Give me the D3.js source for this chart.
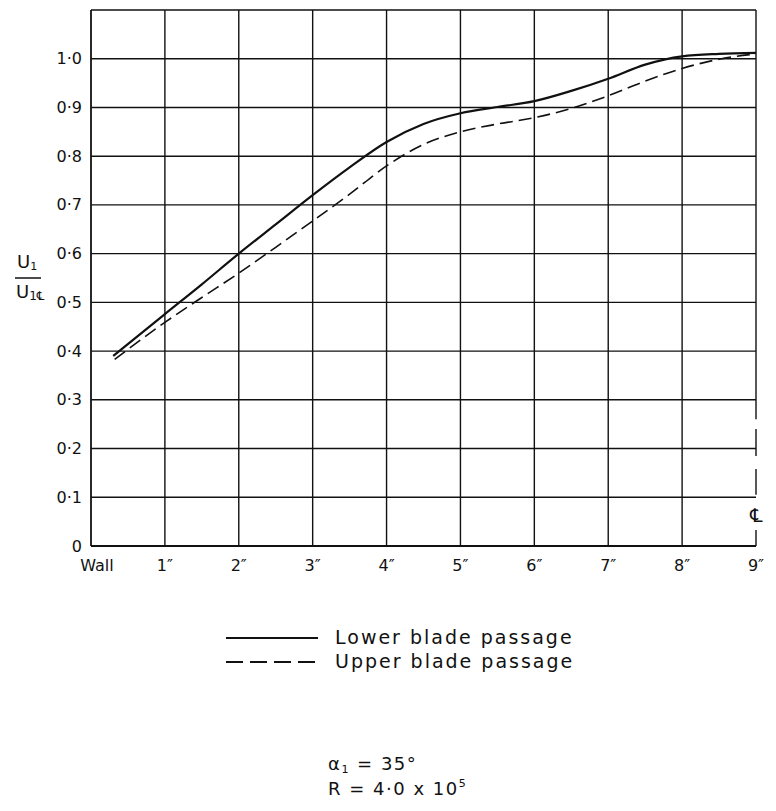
<!DOCTYPE html>
<html>
<head>
<meta charset="utf-8">
<script src="https://cdn.jsdelivr.net/npm/d3@7"></script>
<style>
  body { margin: 0; background: #fff; }
  text { font-family: "DejaVu Sans", sans-serif; fill: #111; }
</style>
</head>
<body>
<div id="chart"></div>
<script>
// distance from wall (inches) and U1/U1CL
const lowerX = [0.3, 1, 1.5, 2, 2.5, 3, 3.5, 4, 4.5, 5, 5.5, 6, 6.5, 7, 7.5, 8, 8.5, 9];
const lowerY = [0.39, 0.476, 0.537, 0.60, 0.66, 0.72, 0.777, 0.829, 0.866, 0.888, 0.901, 0.913, 0.934, 0.959, 0.988, 1.005, 1.01, 1.012];
const upperX = [0.32, 1, 1.5, 2, 2.5, 3, 3.5, 4, 4.5, 5, 5.5, 6, 6.5, 7, 7.5, 8, 8.5, 9];
const upperY = [0.383, 0.459, 0.51, 0.56, 0.613, 0.667, 0.722, 0.78, 0.824, 0.85, 0.866, 0.879, 0.898, 0.924, 0.954, 0.98, 0.999, 1.01];
const xTicks = [0, 1, 2, 3, 4, 5, 6, 7, 8, 9];
const xTickLabels = ["Wall", "1″", "2″", "3″", "4″", "5″", "6″", "7″", "8″", "9″"];
const yTicks = [0, 0.1, 0.2, 0.3, 0.4, 0.5, 0.6, 0.7, 0.8, 0.9, 1.0];
const yTickLabels = ["0", "0·1", "0·2", "0·3", "0·4", "0·5", "0·6", "0·7", "0·8", "0·9", "1·0"];
const legendNames = ["Lower blade passage", "Upper blade passage"];

const width = 776, height = 811;
const svg = d3.select("#chart").append("svg")
  .attr("width", width).attr("height", height);

const x = d3.scaleLinear().domain([0, 9]).range([91, 756]);
const y = d3.scaleLinear().domain([0, 1.1]).range([546, 10]);

// grid
const grid = svg.append("g").attr("stroke", "#111").attr("stroke-width", 1.4);
grid.selectAll(".hg").data(yTicks.slice(1)).join("line")
  .attr("x1", x(0)).attr("x2", x(9))
  .attr("y1", d => y(d)).attr("y2", d => y(d));
grid.selectAll(".vg").data(xTicks.slice(1, -1)).join("line")
  .attr("x1", d => x(d)).attr("x2", d => x(d))
  .attr("y1", y(0)).attr("y2", y(1.1));

// frame
grid.append("line").attr("x1", x(0)).attr("x2", x(0)).attr("y1", y(0)).attr("y2", y(1.1)).attr("stroke-width", 1.8);
grid.append("line").attr("x1", x(0)).attr("x2", x(9)).attr("y1", y(0)).attr("y2", y(0)).attr("stroke-width", 1.8);
grid.append("line").attr("x1", x(0)).attr("x2", x(9)).attr("y1", y(1.1)).attr("y2", y(1.1));
grid.append("line").attr("x1", x(9)).attr("x2", x(9)).attr("y1", y(1.1)).attr("y2", y(0.26));
// centre line (chain) at 9"
grid.append("line").attr("x1", x(9)).attr("x2", x(9)).attr("y1", y(0.24)).attr("y2", y(0.105))
  .attr("stroke-dasharray", "27,13");
grid.append("line").attr("x1", x(9)).attr("x2", x(9)).attr("y1", y(0.033)).attr("y2", y(0));
svg.append("text").attr("x", x(9)).attr("y", y(0.06)).attr("text-anchor", "middle")
  .attr("dominant-baseline", "middle").attr("font-size", 19).text("℄");

// tick labels
svg.selectAll(".yl").data(yTicks).join("text")
  .attr("x", 82).attr("y", d => y(d) + 1)
  .attr("text-anchor", "end").attr("dominant-baseline", "middle")
  .attr("font-size", 16)
  .text((d, i) => yTickLabels[i]);
svg.selectAll(".xl").data(xTicks).join("text")
  .attr("x", d => d === 0 ? 97 : x(d)).attr("y", 571)
  .attr("text-anchor", "middle").attr("font-size", 16)
  .text((d, i) => xTickLabels[i]);

// y label: U1 / U1CL
const yl = svg.append("g");
yl.append("text").attr("x", 17).attr("y", 268).attr("font-size", 18).text("U")
  .append("tspan").attr("font-size", 11).attr("dy", 2).text("1");
yl.append("line").attr("x1", 15).attr("x2", 41).attr("y1", 278).attr("y2", 278)
  .attr("stroke", "#111").attr("stroke-width", 1.5);
yl.append("text").attr("x", 16).attr("y", 298).attr("font-size", 18).text("U")
  .append("tspan").attr("font-size", 12).attr("dy", 2).text("1℄");

// curves
const line = d3.line().x(d => x(d[0])).y(d => y(d[1])).curve(d3.curveMonotoneX);
svg.append("path").datum(d3.zip(lowerX, lowerY))
  .attr("d", line).attr("fill", "none").attr("stroke", "#111").attr("stroke-width", 2.2);
svg.append("path").datum(d3.zip(upperX, upperY))
  .attr("d", line).attr("fill", "none").attr("stroke", "#111").attr("stroke-width", 1.6)
  .attr("stroke-dasharray", "13,6");

// legend
const leg = svg.append("g");
legendNames.forEach((name, i) => {
  const ly = 638 + i * 24;
  leg.append("line").attr("x1", 226).attr("x2", 318).attr("y1", ly).attr("y2", ly)
    .attr("stroke", "#111").attr("stroke-width", 1.8)
    .attr("stroke-dasharray", i === 0 ? null : "17,7");
  leg.append("text").attr("x", 335).attr("y", ly).attr("dominant-baseline", "middle")
    .attr("font-size", 19).attr("letter-spacing", 2).text(name);
});

// conditions
const alpha = svg.append("text").attr("x", 328).attr("y", 770).attr("font-size", 18).attr("letter-spacing", 1.5);
alpha.append("tspan").text("α");
alpha.append("tspan").attr("font-size", 11).attr("dy", 3).text("1");
alpha.append("tspan").attr("dy", -3).text("  =  35°");
const rey = svg.append("text").attr("x", 328).attr("y", 795).attr("font-size", 18).attr("letter-spacing", 1.5);
rey.append("tspan").text("R = 4·0 x 10");
rey.append("tspan").attr("font-size", 11).attr("dy", -8).text("5");
</script>
</body>
</html>
